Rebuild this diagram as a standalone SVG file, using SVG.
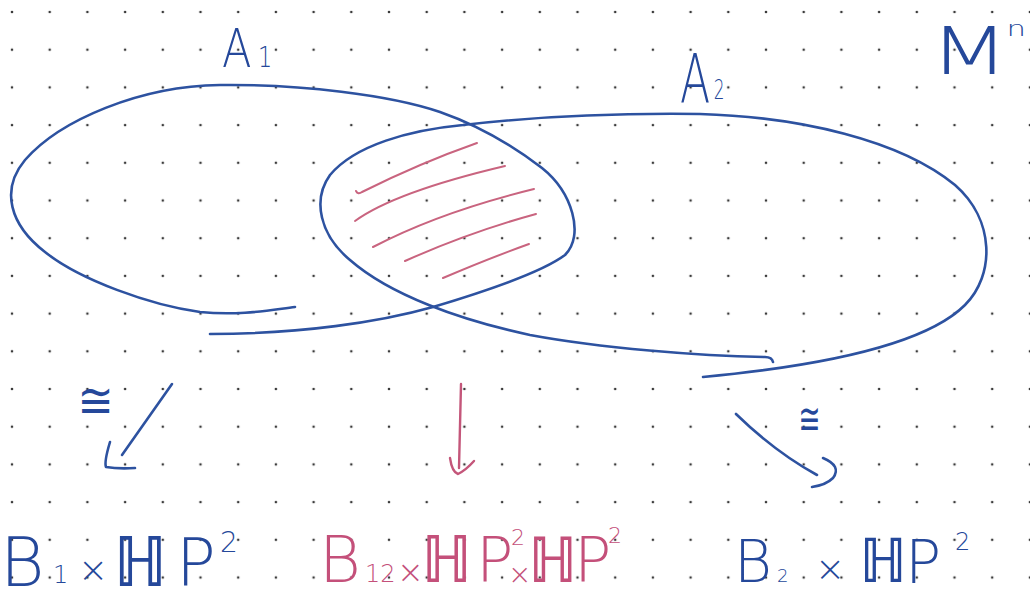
<svg xmlns="http://www.w3.org/2000/svg" width="1030" height="592" viewBox="0 0 1030 592">
<defs>
<pattern id="dots" patternUnits="userSpaceOnUse" x="-6.85" y="-6.85" width="37.7" height="37.7">
<circle cx="18.85" cy="18.85" r="1.3" fill="#3a3a3a"/>
</pattern>
<style>
.ink{fill:none;stroke:#2d52a0;stroke-width:2.6;stroke-linecap:round;stroke-linejoin:round}
.red{fill:none;stroke:#c4567a;stroke-width:2.4;stroke-linecap:round;stroke-linejoin:round}
.hatch{fill:none;stroke:#c9647f;stroke-width:2;stroke-linecap:round}
.t{font-family:"DejaVu Sans","Liberation Sans",sans-serif;font-weight:300}
.sym{font-weight:400}
.hh{font-family:"Noto Sans","DejaVu Sans",sans-serif;font-weight:300}
.blue{fill:#25489a}
.pink{fill:#c4507a}
</style>
</defs>
<rect width="1030" height="592" fill="#ffffff"/>
<rect width="1030" height="592" fill="url(#dots)"/>

<g id="A1">
<path class="ink" d="M210,334 C300,334 380,322 433,307 C490,290 545,270 565,255 C585,235 572,192 542,168 C512,145 480,126 440,112 C390,95 300,84 220,85 C140,86 60,120 25,160 C0,190 10,225 45,252 C80,280 150,305 200,312 C240,316 270,310 295,307"/>
<text class="t blue" transform="scale(0.8,1)"><tspan x="277.5" y="67" font-size="54">A</tspan><tspan x="322.5" y="67" font-size="28">1</tspan></text>
</g>

<g id="A2">
<path class="ink" d="M773,362 Q772,357 765,357 C700,356 600,348 530,335 C460,320 390,295 350,260 C320,235 312,200 330,175 C355,145 410,130 463,125 C540,116 620,113 700,114 C800,117 900,140 955,185 C995,220 995,275 965,305 C925,345 820,366 703,377"/>
<text class="t blue" transform="scale(0.65,1)"><tspan x="1046" y="103" font-size="68">A</tspan><tspan x="1098" y="99" font-size="26">2</tspan></text>
</g>

<g id="A12">
<path class="hatch" d="M356,191 Q358,195 362,192 Q420,163 477,143"/>
<path class="hatch" d="M355,221 Q395,192 505,166"/>
<path class="hatch" d="M373,247 Q440,212 534,189"/>
<path class="hatch" d="M405,261 Q470,232 536,214"/>
<path class="hatch" d="M443,278 Q490,258 529,244"/>
</g>

<g id="M">
<text class="t blue" transform="scale(1.4,1)"><tspan x="664" y="74" font-size="66">M</tspan><tspan x="719" y="36" font-size="22">n</tspan></text>
</g>

<g id="connectors">
<path class="ink" d="M172,384 L122,455"/>
<path class="ink" d="M110,442 Q104,462 106,467 Q118,469 135,468"/>
<text class="t blue sym" transform="scale(0.9,1)" x="86" y="417" font-size="48">≅</text>
<path class="red" d="M461,384 L459,468"/>
<path class="red" d="M450,458 Q452,472 458,474 Q466,470 474,461"/>
<path class="ink" d="M736,414 Q775,452 817,475"/>
<path class="ink" d="M823,458 Q842,466 833,478 Q826,485 812,487"/>
<text class="t blue sym" transform="scale(0.6,1)" x="1331" y="434" font-size="44">≅</text>
</g>

<g id="B1">
<text class="t blue"><tspan x="0" y="586" font-size="68">B</tspan><tspan x="53" y="583" font-size="24">1</tspan><tspan x="78" y="582" font-size="36">×</tspan><tspan class="hh" x="113" y="586" font-size="70">ℍ</tspan><tspan x="176" y="586" font-size="66">P</tspan><tspan x="220" y="552" font-size="28">2</tspan></text>
</g>

<g id="B12">
<text class="t pink"><tspan x="319" y="582" font-size="64">B</tspan><tspan x="365" y="582" font-size="24">12</tspan><tspan x="397" y="583" font-size="32">×</tspan><tspan class="hh" x="421" y="582" font-size="66">ℍ</tspan><tspan x="476" y="582" font-size="62">P</tspan><tspan x="511" y="545" font-size="22">2</tspan><tspan x="508" y="584" font-size="28">×</tspan><tspan class="hh" x="528" y="582" font-size="64">ℍ</tspan><tspan x="574" y="582" font-size="62">P</tspan><tspan x="608" y="543" font-size="22">2</tspan></text>
</g>

<g id="B2">
<text class="t blue"><tspan x="734" y="582" font-size="58">B</tspan><tspan x="777" y="582" font-size="18">2</tspan><tspan x="815" y="581" font-size="36">×</tspan><tspan class="hh" x="859" y="582" font-size="62">ℍ</tspan><tspan x="905" y="583" font-size="60">P</tspan><tspan x="955" y="550" font-size="24">2</tspan></text>
</g>
</svg>
